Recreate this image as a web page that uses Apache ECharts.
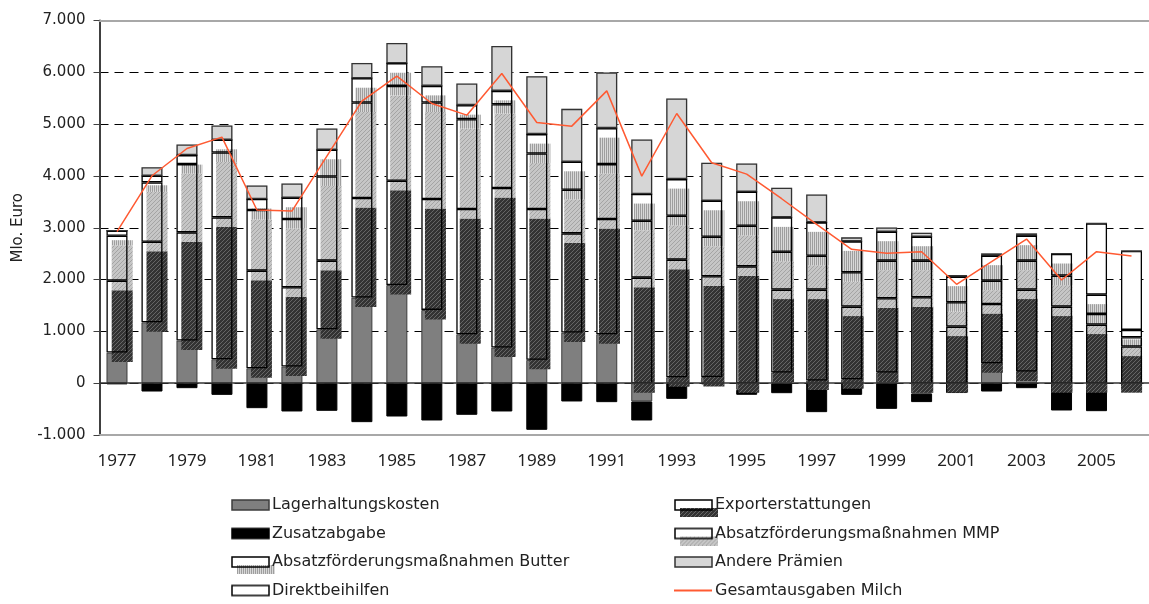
<!DOCTYPE html>
<html>
<head>
<meta charset="utf-8">
<script src="https://cdn.jsdelivr.net/npm/echarts@6/dist/echarts.min.js"></script>
<style>
  html, body { margin: 0; padding: 0; background: #fff; }
  #chart { width: 1149px; height: 604px; }
</style>
</head>
<body>
<div id="chart"></div>
<script>
// Milchmarkt-Ausgaben in Mio. Euro, 1977 - 2006
var years = ['1977','1978','1979','1980','1981','1982','1983','1984','1985','1986',
             '1987','1988','1989','1990','1991','1992','1993','1994','1995','1996',
             '1997','1998','1999','2000','2001','2002','2003','2004','2005','2006'];

var lager   = [591, 1176, 823, 463, 289, 321, 1041, 1652, 1896, 1414,
               945, 688, 450, 977, 945, -353, 116, 120, -128, 206,
               50, 77, 206, -200, 0, 386, 225, 0, -70, 0];
var zusatz  = [-20, -161, -96, -225, -482, -546, -533, -752, -643, -720,
               -610, -546, -900, -353, -366, -367, -302, -20, -96, -193,
               -559, -225, -495, -165, -190, -161, -96, -527, -470, -100];
var export_ = [1388, 1555, 2088, 2737, 1883, 1530, 1324, 1921, 2011, 2140,
               2416, 3078, 2911, 1915, 2223, 2037, 2268, 1943, 2255, 1600,
               1756, 1401, 1433, 1658, 1092, 1143, 1581, 1478, 1131, 707];
var mmp     = [868, 1144, 1317, 1253, 1170, 1317, 1625, 1844, 1831, 1863,
               1735, 1619, 1073, 842, 1060, 1099, 848, 764, 784, 732,
               655, 662, 726, 707, 470, 450, 559, 598, 206, 180];
var butter  = [96, 128, 174, 244, 212, 411, 515, 469, 437, 321,
               270, 257, 373, 539, 694, 514, 707, 694, 656, 662,
               643, 597, 559, 462, 494, 482, 482, 417, 372, 141];
var direkt  = [0, 0, 0, 0, 0, 0, 0, 0, 0, 0,
               0, 0, 0, 0, 0, 0, 0, 0, 0, 0,
               0, 0, 0, 0, 0, 0, 0, 0, 1375, 1523];
var andere  = [0, 167, 205, 277, 263, 277, 411, 296, 392, 380,
               417, 868, 1118, 1022, 1073, 1054, 1555, 733, 546, 572,
               540, 78, 83, 78, 32, 45, 45, 13, 0, 0];
var gesamt  = [2924, 4003, 4530, 4749, 3342, 3322, 4383, 5443, 5925, 5398,
               5173, 5976, 5031, 4961, 5642, 3997, 5205, 4254, 4035, 3560,
               3065, 2583, 2506, 2538, 1909, 2345, 2782, 1992, 2538, 2455];

var yTicks = { min: -1000, max: 7000, step: 1000 };

var names = {
  lager: 'Lagerhaltungskosten',
  zusatz: 'Zusatzabgabe',
  butter: 'Absatzförderungsmaßnahmen Butter',
  direkt: 'Direktbeihilfen',
  export_: 'Exporterstattungen',
  mmp: 'Absatzförderungsmaßnahmen MMP',
  andere: 'Andere Prämien',
  gesamt: 'Gesamtausgaben Milch'
};

// fill patterns (Excel-like hatches)
function pattern(w, h, draw) {
  var c = document.createElement('canvas');
  c.width = w; c.height = h;
  draw(c.getContext('2d'));
  return c;
}
var darkHatch = pattern(4, 4, function (ctx) {
  ctx.fillStyle = '#333333'; ctx.fillRect(0, 0, 4, 4);
  ctx.fillStyle = '#666666';
  for (var i = 0; i < 4; i++) ctx.fillRect(i, 3 - i, 1, 1);
});
var lightHatch = pattern(4, 4, function (ctx) {
  ctx.fillStyle = '#c6c6c6'; ctx.fillRect(0, 0, 4, 4);
  ctx.fillStyle = '#a4a4a4';
  for (var i = 0; i < 4; i++) ctx.fillRect(i, 3 - i, 1, 1);
});
var stripes = pattern(2, 2, function (ctx) {
  ctx.fillStyle = '#d8d8d8'; ctx.fillRect(0, 0, 2, 2);
  ctx.fillStyle = '#9e9e9e'; ctx.fillRect(0, 0, 1, 2);
});

function makeIcon(fill, border, shadow, line) {
  var c = document.createElement('canvas');
  c.width = 44; c.height = 24;
  var ctx = c.getContext('2d');
  if (line) {
    ctx.strokeStyle = line; ctx.lineWidth = 2;
    ctx.beginPath(); ctx.moveTo(0, 12); ctx.lineTo(38, 12); ctx.stroke();
  } else {
    ctx.fillStyle = fill; ctx.fillRect(1, 7, 37, 10);
    if (shadow) {
      ctx.fillStyle = ctx.createPattern(shadow, 'repeat');
      ctx.fillRect(6, 15, 38, 9);
    }
    ctx.strokeStyle = border; ctx.lineWidth = 1.5;
    ctx.strokeRect(1, 7, 37, 10);
  }
  return 'image://' + c.toDataURL();
}

var BAR_W = 21;

function bar(name, data, x, y, stack, style) {
  return {
    name: name, type: 'bar', xAxisIndex: x, yAxisIndex: y, stack: stack,
    barWidth: BAR_W, data: data, itemStyle: style, silent: true
  };
}

var none = { color: 'transparent', borderWidth: 0 };
var outline = { color: 'transparent', borderColor: '#000', borderWidth: 1.3 };

var series = [
  // filled boxes
  bar(names.lager, lager, 0, 0, 'main', { color: '#7f7f7f', borderColor: '#3c3c3c', borderWidth: 1 }),
  bar(names.zusatz, zusatz, 0, 0, 'main', { color: '#000', borderColor: '#000', borderWidth: 1 }),
  bar(names.export_, export_, 0, 0, 'main', { color: '#fff' }),
  bar(names.mmp, mmp, 0, 0, 'main', { color: '#fff' }),
  bar(names.butter, butter, 0, 0, 'main', { color: '#fff' }),
  bar(names.direkt, direkt, 0, 0, 'main', { color: '#fff' }),
  bar(names.andere, andere, 0, 0, 'main', { color: '#d6d6d6' }),
  // offset hatch "shadows" on the shifted grid
  bar(names.lager, lager, 2, 1, 'shadow', none),
  bar(names.export_, export_, 2, 1, 'shadow', { color: { image: darkHatch, repeat: 'repeat' } }),
  bar(names.mmp, mmp, 2, 1, 'shadow', { color: { image: lightHatch, repeat: 'repeat' } }),
  bar(names.butter, butter, 2, 1, 'shadow', { color: { image: stripes, repeat: 'repeat' } }),
  // outlines on top
  bar(names.lager, lager, 1, 0, 'outline', none),
  bar(names.zusatz, zusatz, 1, 0, 'outline', none),
  bar(names.export_, export_, 1, 0, 'outline', outline),
  bar(names.mmp, mmp, 1, 0, 'outline', outline),
  bar(names.butter, butter, 1, 0, 'outline', outline),
  bar(names.direkt, direkt, 1, 0, 'outline', outline),
  bar(names.andere, andere, 1, 0, 'outline', { color: 'transparent', borderColor: '#333', borderWidth: 1.3 }),
  {
    name: names.gesamt, type: 'line', xAxisIndex: 0, yAxisIndex: 0, data: gesamt,
    symbol: 'none', z: 5, silent: true,
    lineStyle: { color: '#ff5a32', width: 1.5 }, itemStyle: { color: '#ff5a32' }
  }
];

// zero line
series[0].markLine = {
  silent: true, symbol: 'none', label: { show: false },
  lineStyle: { color: '#333', type: 'solid', width: 1.5 },
  data: [{ yAxis: 0 }]
};

function deNum(v) {
  var s = String(Math.abs(v));
  if (s.length > 3) s = s.slice(0, -3) + '.' + s.slice(-3);
  return (v < 0 ? '-' : '') + s;
}

var legendText = { fontFamily: 'DejaVu Sans', fontSize: 16, color: '#222', padding: [0, 0, 0, -8] };

var chart = echarts.init(document.getElementById('chart'));
chart.setOption({
  animation: false,
  grid: [
    { left: 99.5, top: 20.5, width: 1050, height: 414.5 },
    { left: 104.8, top: 30, width: 1050, height: 414.5 }
  ],
  xAxis: [
    {
      type: 'category', data: years, gridIndex: 0, position: 'bottom',
      axisLine: { onZero: false, lineStyle: { color: '#a8a8a8', width: 2 } },
      axisTick: { show: false },
      axisLabel: { interval: 1, margin: 18, fontSize: 17, fontFamily: 'Noto Sans', color: '#222' }
    },
    {
      type: 'category', data: years, gridIndex: 0, position: 'top',
      axisLine: { onZero: false, lineStyle: { color: '#a8a8a8', width: 2 } },
      axisTick: { show: false }, axisLabel: { show: false }
    },
    { type: 'category', data: years, gridIndex: 1, show: false }
  ],
  yAxis: [
    {
      type: 'value', gridIndex: 0, min: yTicks.min, max: yTicks.max, interval: yTicks.step,
      name: 'Mlo. Euro', nameLocation: 'middle', nameGap: 74,
      nameTextStyle: { fontFamily: 'DejaVu Sans', fontSize: 15, color: '#222' },
      axisLine: { show: true, lineStyle: { color: '#404040', width: 2 } },
      axisTick: { show: true, length: 6, lineStyle: { color: '#404040' } },
      axisLabel: { formatter: deNum, fontFamily: 'DejaVu Sans', fontSize: 15, color: '#222', margin: 14 },
      splitLine: { lineStyle: { color: '#000', width: 1, type: [9, 6] } }
    },
    { type: 'value', gridIndex: 1, min: yTicks.min, max: yTicks.max, interval: yTicks.step, show: false }
  ],
  legend: [
    {
      orient: 'vertical', left: 231, top: 493, height: 111, padding: 0, itemGap: 4.5,
      itemWidth: 44, itemHeight: 24, textStyle: legendText,
      data: [
        { name: names.lager, icon: makeIcon('#7f7f7f', '#3c3c3c') },
        { name: names.zusatz, icon: makeIcon('#000', '#000') },
        { name: names.butter, icon: makeIcon('#fff', '#000', stripes) },
        { name: names.direkt, icon: makeIcon('#fff', '#000') }
      ]
    },
    {
      orient: 'vertical', left: 674, top: 493, height: 111, padding: 0, itemGap: 4.5,
      itemWidth: 44, itemHeight: 24, textStyle: legendText,
      data: [
        { name: names.export_, icon: makeIcon('#fff', '#000', darkHatch) },
        { name: names.mmp, icon: makeIcon('#fff', '#000', lightHatch) },
        { name: names.andere, icon: makeIcon('#d6d6d6', '#333') },
        { name: names.gesamt, icon: makeIcon(null, null, null, '#ff5a32') }
      ]
    }
  ],
  series: series
});
</script>
</body>
</html>
